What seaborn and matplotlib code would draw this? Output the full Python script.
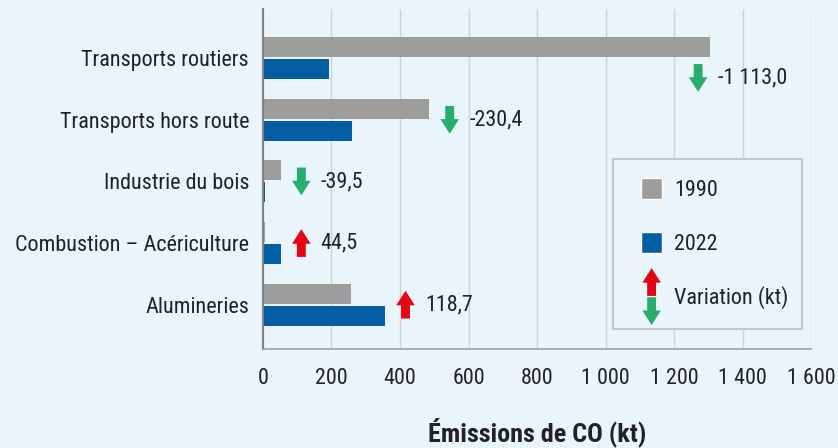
import numpy as np
import pandas as pd
import matplotlib
matplotlib.use('Agg')
import matplotlib.pyplot as plt
import matplotlib.transforms as mtransforms
from matplotlib import font_manager
from matplotlib.patches import Polygon, Patch, Rectangle
from matplotlib.legend_handler import HandlerBase, HandlerPatch
from matplotlib.ticker import FuncFormatter
import seaborn as sns

# Données
categories = ['Transports routiers', 'Transports hors route', 'Industrie du bois',
              'Combustion – Acériculture', 'Alumineries']
emissions_1990 = [1305, 485, 52, 6, 257]
emissions_2022 = [192, 259, 6, 52, 356]
variation = [-1113.0, -230.4, -39.5, 44.5, 118.7]
annees = ['1990', '2022']
graduations = [0, 200, 400, 600, 800, 1000, 1200, 1400, 1600]

COULEUR_FOND = '#eaf4fb'
COULEURS = ['#9d9d9c', '#035ea3']
ROUGE = '#e30613'
VERT = '#27ae6c'
TEXTE = '#222222'

# Flèche (en points), pointe vers le haut, centrée sur (0, 0)
FLECHE = np.array([[0, 10], [6.7, -0.5], [3.2, -0.5], [3.2, -10],
                   [-3.2, -10], [-3.2, -0.5], [-6.7, -0.5]])


def fleche(sens, dx=0.0, dy=0.0):
    pts = FLECHE.copy()
    pts[:, 1] *= sens
    return pts + [dx, dy]


def formater_nombre(v, decimales=0):
    return f"{v:,.{decimales}f}".replace(',', ' ').replace('.', ',')


class Variation:
    pass


class HandlerVariation(HandlerBase):
    def create_artists(self, legend, orig_handle, xdescent, ydescent,
                       width, height, fontsize, trans):
        cx = -xdescent + width / 2
        cy = -ydescent + height / 2
        haut = Polygon(fleche(1, cx, cy + 10.5), closed=True, facecolor=ROUGE, lw=0, transform=trans)
        bas = Polygon(fleche(-1, cx, cy - 10.5), closed=True, facecolor=VERT, lw=0, transform=trans)
        return [haut, bas]


def carre(legend, orig_handle, xdescent, ydescent, width, height, fontsize):
    cx = -xdescent + width / 2
    cy = -ydescent + height / 2
    return Rectangle((cx - 7.5, cy - 7.5), 15, 15)


def choisir_police():
    # police étroite si possible (le graphique d'origine est en condensé)
    entrees = font_manager.fontManager.ttflist
    noms = {f.name for f in entrees}
    for nom in ['Roboto Condensed', 'Liberation Sans Narrow', 'Open Sans Condensed',
                'Noto Sans Condensed', 'DejaVu Sans Condensed']:
        if nom in noms:
            return nom, 'normal'
    for f in entrees:
        if 'Condensed' in f.name or 'Narrow' in f.name:
            return f.name, 'normal'
    for f in entrees:
        if f.stretch in ('condensed', 'semi-condensed') and f.style == 'normal':
            return f.name, f.stretch
    return 'Liberation Sans', 'normal'


sns.set_theme(style='white')
police, etirement = choisir_police()
plt.rcParams['font.family'] = [police, 'DejaVu Sans']
plt.rcParams['font.stretch'] = etirement

fig, ax = plt.subplots(figsize=(8.38, 4.48), dpi=100)
fig.patch.set_facecolor(COULEUR_FOND)
ax.set_facecolor(COULEUR_FOND)
fig.subplots_adjust(left=0.3138, right=0.968, top=0.98, bottom=0.221)

# taille des textes ajustée sur la largeur des libellés de la référence
rendu = fig.canvas.get_renderer()


def taille_pour(texte, largeur_px, **kw):
    t = fig.text(0, 0, texte, fontsize=10, **kw)
    w = t.get_window_extent(rendu).width
    t.remove()
    return 10 * largeur_px / w


TAILLE = min(taille_pour('Transports hors route', 189), 18)
TAILLE_TITRE = min(taille_pour('Émissions de CO (kt)', 219, fontweight='bold'), 19)

df = pd.DataFrame({
    'Categorie': categories * 2,
    'Emissions': emissions_1990 + emissions_2022,
    'Annee': [annees[0]] * len(categories) + [annees[1]] * len(categories),
})

sns.barplot(data=df, x='Emissions', y='Categorie', hue='Annee', palette=COULEURS,
            orient='h', width=0.715, gap=0.09, saturation=1, linewidth=0,
            legend=False, ax=ax)

ax.set_xlim(0, 1600)
ax.set_ylim(len(categories) - 0.28, -0.8)
ax.set_xticks(graduations)
ax.xaxis.set_major_formatter(FuncFormatter(lambda v, p: formater_nombre(v)))
ax.xaxis.grid(True, color='#d2d2d2', lw=1)
ax.yaxis.grid(False)
ax.set_axisbelow(True)
for cote in ['top', 'right']:
    ax.spines[cote].set_visible(False)
ax.spines['left'].set_color('#808080')
ax.spines['left'].set_linewidth(1.5)
ax.spines['bottom'].set_color('#a0a0a0')
ax.spines['bottom'].set_linewidth(1.2)
ax.tick_params(axis='x', length=7, color='#c8c8c8', width=1, pad=7, labelsize=TAILLE, labelcolor=TEXTE)
ax.tick_params(axis='y', length=0, pad=10, labelsize=TAILLE, labelcolor=TEXTE)
ax.set_ylabel('')
ax.set_xlabel('Émissions de CO (kt)', fontsize=TAILLE_TITRE, fontweight='bold', color=TEXTE, labelpad=20)

# Flèches de variation
for i, (v1, v2, var) in enumerate(zip(emissions_1990, emissions_2022, variation)):
    fin = max(v1, v2)
    x, y = fin + 60, i
    if x + 250 > 1600:  # pas la place à droite : sous la barre
        x, y = fin - 35, i + 0.32
    sens = 1 if var > 0 else -1
    tr = (mtransforms.Affine2D().scale(1 / 72) + fig.dpi_scale_trans
          + mtransforms.ScaledTranslation(x, y, ax.transData))
    ax.add_patch(Polygon(fleche(sens), closed=True, facecolor=ROUGE if sens > 0 else VERT,
                         lw=0, transform=tr, clip_on=False))
    ax.annotate(formater_nombre(var, 1), xy=(x, y), xytext=(14, 0), textcoords='offset points',
                va='center', ha='left', fontsize=TAILLE, color=TEXTE)

ax.set_xlim(0, 1600)
ax.set_ylim(len(categories) - 0.28, -0.8)

poignees = [Patch(facecolor=COULEURS[0], label=annees[0]),
            Patch(facecolor=COULEURS[1], label=annees[1]),
            Variation()]
etiquettes = [annees[0], annees[1], 'Variation (kt)']
leg = ax.legend(poignees, etiquettes, loc='upper left', bbox_to_anchor=(0.639, 0.056, 0.345, 0.503),
                mode='expand', fontsize=TAILLE, handlelength=1.6 * 17 / TAILLE, handleheight=17 / TAILLE,
                handletextpad=0.15, labelspacing=22.3 / TAILLE, borderpad=14 / TAILLE, borderaxespad=0,
                fancybox=False, frameon=True, facecolor=COULEUR_FOND, edgecolor='#c6c6c6',
                framealpha=1, labelcolor=TEXTE,
                handler_map={Patch: HandlerPatch(patch_func=carre), Variation: HandlerVariation()})
leg.get_frame().set_linewidth(1.5)

plt.savefig('out.png', dpi=100, facecolor=COULEUR_FOND)
plt.close()
